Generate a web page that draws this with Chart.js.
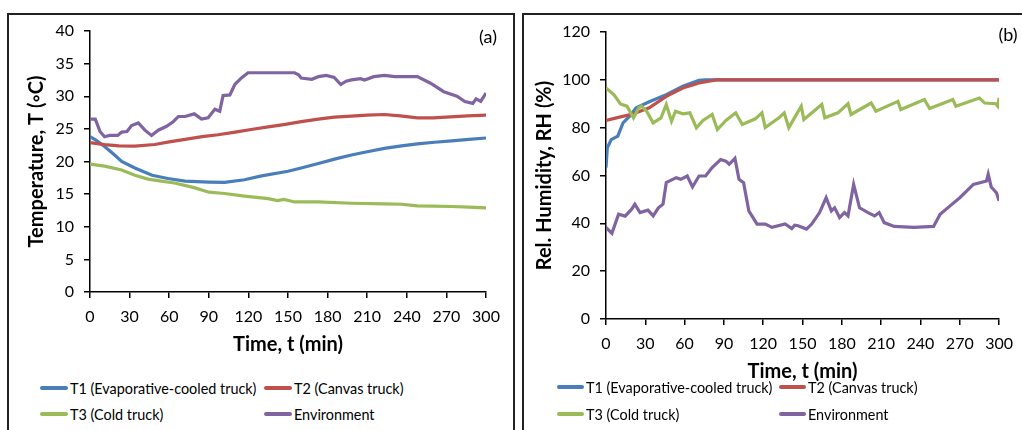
<!DOCTYPE html>
<html>
<head>
<meta charset="utf-8">
<script src="https://cdn.jsdelivr.net/npm/chart.js@4.4.1/dist/chart.umd.min.js"></script>
<style>
    body { margin: 0; background: #fff; font-family: Lato, "Open Sans", sans-serif; }
    #page { position: relative; width: 1022px; height: 430px; overflow: hidden; background: #fff; }
    .panel-box { position: absolute; border: 2px solid #222; box-sizing: border-box; }
    canvas { position: absolute; }
    .tag { position: absolute; font-size: 18px; color: #000; transform: translate(-50%, -50%); }
    .leg-line { position: absolute; height: 4px; margin-top: -2px; border-radius: 2px; }
    .leg-text { position: absolute; font-size: 14.4px; color: #000; transform: translateY(-50%); white-space: nowrap; }
</style>
</head>
<body>
<div id="page">
    <div class="panel-box" style="left:7px; top:13px; width:508px; height:430px;"></div>
    <div class="panel-box" style="left:522px; top:13px; width:510px; height:430px;"></div>
    <canvas id="tempChart" width="515" height="357" style="left:0; top:0;"></canvas>
    <canvas id="rhChart" width="504" height="384" style="left:518px; top:0;"></canvas>
    <div class="tag" style="left:488px; top:36px;">(a)</div>
    <div class="tag" style="left:1008px; top:34px;">(b)</div>
    <div id="legend-a"></div>
    <div id="legend-b"></div>
</div>
<script>
const COLORS = [
    '#4A7EBB', // T1 blue
    '#C0504D', // T2 red
    '#9BBB59', // T3 green
    '#8064A2'  // Environment purple
];
const SERIES_NAMES = ['T1 (Evaporative-cooled truck)', 'T2 (Canvas truck)', 'T3 (Cold truck)', 'Environment'];
const FONT = 'Lato, "Open Sans", sans-serif';

// ---- (a) temperature, deg C ----
const tempT1Time = [0, 5, 11, 18, 24, 34, 47, 59, 72, 90, 102, 117, 130, 150, 160, 173, 186, 198, 210, 223, 236, 248, 261, 274, 287, 300];
const tempT1 = [23.8, 23.2, 22.3, 21.1, 20.0, 19.0, 17.9, 17.4, 17.0, 16.85, 16.8, 17.2, 17.8, 18.5, 19.0, 19.7, 20.4, 21.0, 21.5, 22.0, 22.4, 22.7, 22.95, 23.15, 23.4, 23.6];

const tempT2Time = [0, 11, 22, 34, 49, 60, 72, 85, 97, 110, 122, 135, 148, 160, 173, 185, 198, 210, 223, 235, 248, 260, 273, 286, 300];
const tempT2 = [22.9, 22.6, 22.4, 22.35, 22.6, 23.0, 23.4, 23.8, 24.1, 24.5, 24.9, 25.3, 25.7, 26.1, 26.5, 26.8, 26.95, 27.1, 27.2, 27.0, 26.7, 26.7, 26.85, 27.0, 27.1];

const tempT3Time = [0, 11, 24, 34, 44, 54, 64, 79, 90, 102, 117, 135, 142, 147, 155, 173, 198, 223, 236, 248, 260, 274, 287, 300];
const tempT3 = [19.6, 19.3, 18.7, 17.9, 17.3, 17.0, 16.7, 16.0, 15.3, 15.1, 14.7, 14.3, 14.0, 14.2, 13.8, 13.8, 13.6, 13.5, 13.45, 13.2, 13.15, 13.1, 13.0, 12.9];

const tempEnvTime = [0, 4, 7.6, 11, 15, 21, 24, 28, 31.5, 36.6,
    41.6, 46.6, 51.7, 58, 63, 67, 72, 79, 84.5, 89.5,
    94.6, 98.3, 100.8, 106, 109.7, 114.7, 119.7, 155, 158, 160,
    168, 173, 179, 185, 190, 194, 198, 205, 208, 215,
    223, 231, 248, 258, 268, 278, 284, 290, 292.5, 296, 300];
const tempEnv = [26.5, 26.5, 24.6, 23.8, 24.0, 24.0, 24.5, 24.6, 25.5, 25.9,
    24.8, 24.0, 24.8, 25.4, 26.1, 26.9, 26.9, 27.3, 26.5, 26.7,
    28.0, 27.7, 30.1, 30.2, 31.8, 32.8, 33.6, 33.6, 33.3, 32.8,
    32.6, 33.0, 33.2, 32.9, 31.8, 32.3, 32.5, 32.7, 32.5, 33.0,
    33.2, 33.0, 33.0, 32.0, 30.7, 30.0, 29.2, 28.9, 29.6, 29.2, 30.5];

// ---- (b) relative humidity, % ----
const rhT1Time = [0, 1, 4, 9, 13, 18, 23, 33, 46, 58.6, 71, 76, 300];
const rhT1 = [63.3, 71.6, 75, 76.5, 82, 84.8, 88.3, 90.8, 93.8, 97.3, 99.8, 100, 100];

const rhT2Time = [0, 8, 21, 33, 46, 58.6, 71, 84, 300];
const rhT2 = [83, 84.1, 85.8, 88.3, 93.1, 96.6, 98.7, 100, 100];

const rhT3Time = [0, 6, 11, 16, 21, 25, 27, 31, 36, 42,
    46, 50, 53, 58.6, 64, 69, 74, 81, 85, 91.5,
    99, 104, 114, 119, 121.5, 132, 136, 139.5, 149, 151,
    164.7, 167, 177, 184.7, 187, 202.4, 206, 222.8, 225, 243,
    247, 264.7, 267, 285, 289, 297.5, 299, 300];
const rhT3 = [96.6, 93.8, 89.9, 89, 84.1, 88.3, 89, 86.9, 82, 84.1,
    89.7, 82.7, 86.9, 85.8, 86.2, 79.9, 83, 85.5, 79.2, 83,
    86.2, 81.3, 83.7, 86.2, 80, 84.1, 86.2, 80, 89, 83.4,
    89.7, 84.1, 86.2, 90, 85.5, 90.3, 86.9, 91, 87.6, 91.8,
    88, 91.8, 89, 92.4, 90.3, 90, 89, 92.5];

const rhEnvTime = [0, 4.5, 9.6, 14.6, 19.6, 22, 26, 32, 36, 40,
    43.5, 46, 53.6, 57, 62, 66, 71, 76, 81, 87.5,
    91.5, 94, 98.4, 101.5, 105, 109, 115.3, 121.6, 126.7, 136.7,
    141.8, 144, 146.6, 153, 157, 163, 168, 172, 174.5, 178.3,
    182, 184.7, 189, 193.5, 200, 205, 208.5, 212.3, 220, 235,
    250, 255, 262.6, 270, 280.4, 290.4, 291.7, 294, 298, 300];
const rhEnv = [38.3, 35.8, 43.8, 43, 45.9, 48, 44.5, 45.5, 43.1, 46.5,
    48, 57, 59.1, 58.4, 59.8, 55.2, 59.8, 59.8, 63.3, 66.7,
    66, 64.7, 67.2, 58.4, 57, 45.2, 39.7, 39.7, 38.3, 39.7,
    37.8, 39.2, 39, 37.6, 39.7, 44.5, 50.7, 45.2, 46.5, 42.4,
    44.5, 43.1, 56.3, 46.5, 44.5, 43.1, 44.5, 40.3, 38.7, 38.3,
    38.7, 43.8, 47.3, 50.7, 56.3, 57.7, 60.5, 55.2, 52.8, 49.4];

const xTicks = { min: 0, max: 300, step: 30 };

function toPoints(times, values) {
    return times.map((t, i) => ({ x: t, y: values[i] }));
}

function buildDatasets(seriesList) {
    // Excel draws later series on top, so give later series a lower order
    return seriesList.map((s, i) => ({
        label: SERIES_NAMES[i],
        data: toPoints(s[0], s[1]),
        borderColor: COLORS[i],
        backgroundColor: COLORS[i],
        borderWidth: 3.2,
        pointRadius: 0,
        tension: 0,
        fill: false,
        order: seriesList.length - i
    }));
}

function axisStyle() {
    return {
        grid: { drawOnChartArea: false, drawTicks: true, tickLength: 6, color: '#000', lineWidth: 1.5 },
        border: { display: true, color: '#000', width: 1.5 }
    };
}

function makeChart(canvasId, seriesList, yMin, yMax, yStep, yTitle, pad, yWidth) {
    const ctx = document.getElementById(canvasId).getContext('2d');
    return new Chart(ctx, {
        type: 'line',
        data: { datasets: buildDatasets(seriesList) },
        options: {
            responsive: false,
            animation: false,
            devicePixelRatio: 1,
            layout: { padding: pad },
            plugins: { legend: { display: false }, tooltip: { enabled: false } },
            scales: {
                x: {
                    type: 'linear',
                    min: xTicks.min,
                    max: xTicks.max,
                    ticks: { stepSize: xTicks.step, color: '#000', font: { family: FONT, size: 16 }, padding: 9, maxRotation: 0, autoSkip: false },
                    ...axisStyle(),
                    title: { display: true, text: 'Time, t (min)', color: '#000', font: { family: FONT, size: 20, weight: 'bold' }, padding: 0 },
                    afterFit: s => { s.height = 65; }
                },
                y: {
                    type: 'linear',
                    min: yMin,
                    max: yMax,
                    ticks: { stepSize: yStep, color: '#000', font: { family: FONT, size: 16 }, padding: 10 },
                    ...axisStyle(),
                    title: { display: true, text: yTitle, color: '#000', font: { family: FONT, size: 20, weight: 'bold' }, padding: 0 },
                    afterFit: s => { s.width = yWidth; }
                }
            }
        }
    });
}

function buildLegend(elId, pos) {
    const el = document.getElementById(elId);
    let html = '';
    SERIES_NAMES.forEach((name, i) => {
        const col = i % 2, row = Math.floor(i / 2);
        const y = pos.rows[row];
        const lx = pos.lineX[col];
        html += `<div class="leg-line" style="left:${lx}px; top:${y}px; width:${pos.lineW}px; background:${COLORS[i]}"></div>`;
        html += `<div class="leg-text" style="left:${lx + pos.lineW + 2}px; top:${y}px;">${name}</div>`;
    });
    el.innerHTML = html;
}

makeChart('tempChart',
    [[tempT1Time, tempT1], [tempT2Time, tempT2], [tempT3Time, tempT3], [tempEnvTime, tempEnv]],
    0, 40, 5, 'Temperature, T (\u25E6C)', { left: 25, top: 31, right: 29, bottom: 0 }, 65);

makeChart('rhChart',
    [[rhT1Time, rhT1], [rhT2Time, rhT2], [rhT3Time, rhT3], [rhEnvTime, rhEnv]],
    0, 120, 20, 'Rel. Humidity, RH (%)', { left: 15, top: 32, right: 19, bottom: 0 }, 73);

buildLegend('legend-a', { rows: [387.5, 413.5], lineX: [40, 264], lineW: 28 });
buildLegend('legend-b', { rows: [387, 414], lineX: [557, 779], lineW: 27 });
</script>
</body>
</html>
